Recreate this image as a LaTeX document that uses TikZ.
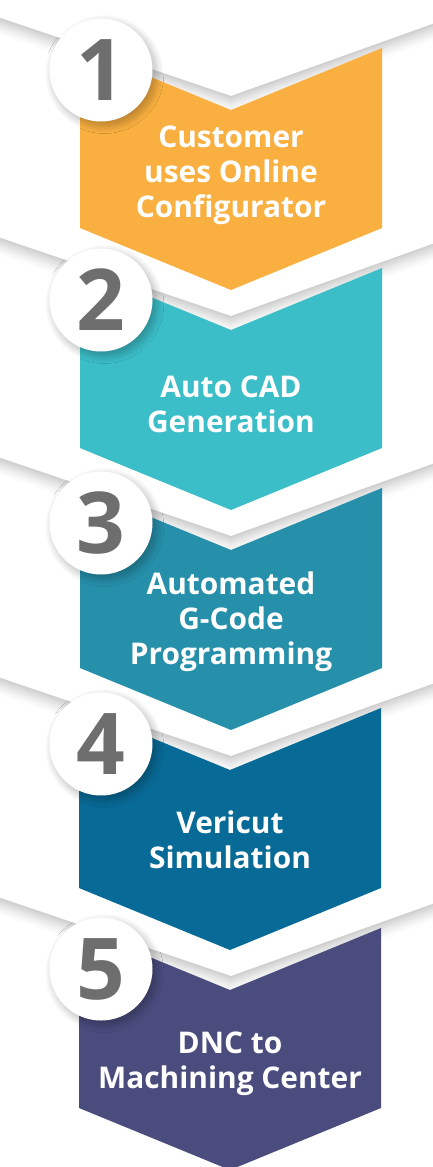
\documentclass[tikz,border=0pt]{standalone}
\usepackage{fontspec}
\setmainfont{Open Sans}
\usetikzlibrary{shadows.blur}

\definecolor{stepone}{RGB}{250,176,64}
\definecolor{steptwo}{RGB}{59,190,200}
\definecolor{stepthree}{RGB}{38,143,170}
\definecolor{stepfour}{RGB}{8,106,150}
\definecolor{stepfive}{RGB}{74,76,126}
\definecolor{numgray}{RGB}{110,110,110}

% soft fold shade below the line through the notch #1
\newcommand{\foldshade}[1]{%
  \foreach \k in {0,...,17}{%
    \pgfmathsetmacro{\shadeval}{19*(1-\k/18)^1.4}%
    \fill[black!\shadeval] (-20,#1-99+\k) -- (231,#1-14+\k) -- (452,#1-93+\k)
      -- (452,#1-91.4+\k) -- (231,#1-12.4+\k) -- (-20,#1-97.4+\k) -- cycle;
  }}

\tikzset{
  chevron/.style={draw=none},
  stepnum/.style={circle, fill=white, minimum size=77.25pt, inner sep=0pt,
    text=numgray, font=\bfseries\fontsize{64}{64}\selectfont,
    blur shadow={shadow xshift=2.5pt, shadow yshift=-3pt, shadow blur radius=6pt,
      shadow blur steps=20, shadow opacity=30}},
  steptext/.style={text=white, align=center, font=\bfseries\fontsize{22.4}{26.25}\selectfont}
}

\begin{document}
\begin{tikzpicture}[x=0.75pt, y=-0.75pt]
  \useasboundingbox (0,0) rectangle (432,1167);

  % Drawing fold shades
  \foldshade{110}
  \foldshade{330}
  \foldshade{550}
  \foldshade{770}
  \foldshade{990}

  % Drawing chevron 1
  \fill[chevron, stepone] (80,48) -- (231,110) -- (382,48) -- (382,228) -- (231,290) -- (80,228) -- cycle;
  % Drawing chevron 2
  \fill[chevron, steptwo] (80,268) -- (231,330) -- (382,268) -- (382,448) -- (231,510) -- (80,448) -- cycle;
  % Drawing chevron 3
  \fill[chevron, stepthree] (80,488) -- (231,550) -- (382,488) -- (382,668) -- (231,730) -- (80,668) -- cycle;
  % Drawing chevron 4
  \fill[chevron, stepfour] (79,708) -- (230,770) -- (381,708) -- (381,888) -- (230,950) -- (79,888) -- cycle;
  % Drawing chevron 5
  \fill[chevron, stepfive] (79,928) -- (230,990) -- (381,928) -- (381,1108) -- (230,1170) -- (79,1108) -- cycle;

  % Marking step texts
  \node[steptext] (text1) at (231,175) {Customer\\uses Online\\Configurator};
  \node[steptext] (text2) at (231,404) {Auto CAD\\Generation};
  \node[steptext] (text3) at (231,622) {Automated\\G-Code\\Programming};
  \node[steptext] (text4) at (230,840) {Vericut\\Simulation};
  \node[steptext] (text5) at (230,1064) {DNC to\\Machining Center};

  % Marking step numbers
  \node[stepnum] (num1) at (101,70) {1};
  \node[stepnum] (num2) at (101,300) {2};
  \node[stepnum] (num3) at (101,523) {3};
  \node[stepnum] (num4) at (101,744) {4};
  \node[stepnum] (num5) at (101,969) {5};
\end{tikzpicture}
\end{document}
